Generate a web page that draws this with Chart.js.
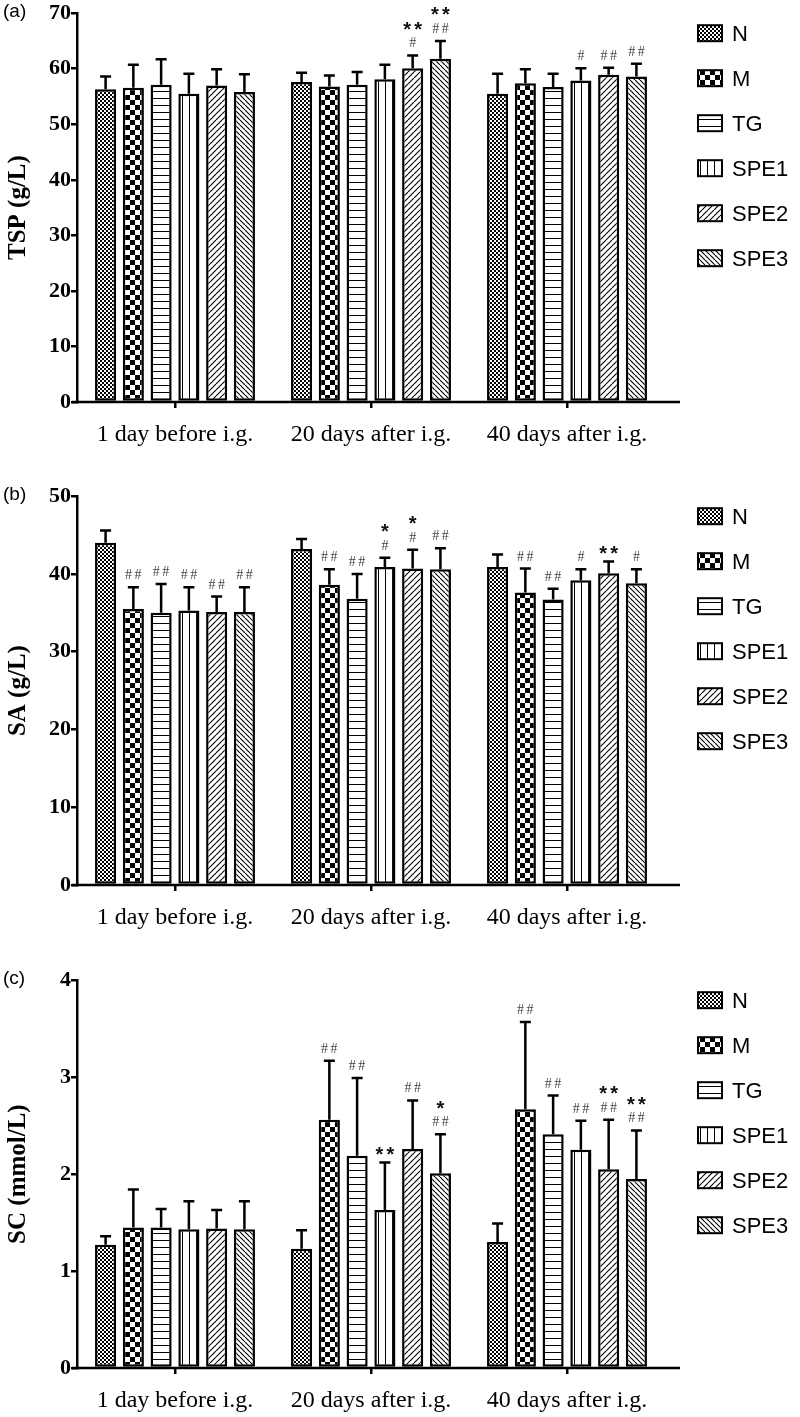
<!DOCTYPE html>
<html>
<head>
<meta charset="utf-8">
<script src="https://cdn.jsdelivr.net/npm/chart.js@4.4.1/dist/chart.umd.min.js"></script>
<style>
  html, body { margin: 0; padding: 0; background: #fff; }
  canvas { display: block; }
</style>
</head>
<body>
<canvas id="tsp" width="800" height="483"></canvas>
<canvas id="sa" width="800" height="484"></canvas>
<canvas id="sc" width="800" height="450"></canvas>
<script>
'use strict'

const groups = ['1 day before i.g.', '20 days after i.g.', '40 days after i.g.']
const series = ['N', 'M', 'TG', 'SPE1', 'SPE2', 'SPE3']

// rows = series, columns = groups
const tspMean = [
  [56.3, 57.6, 55.5],
  [56.6, 56.8, 57.4],
  [57.1, 57.1, 56.7],
  [55.5, 58.1, 57.9],
  [57.0, 60.1, 58.9],
  [55.8, 61.8, 58.6],
]
const tspSd = [
  [2.3, 1.7, 3.6],
  [4.1, 2.0, 2.5],
  [4.6, 2.3, 2.4],
  [3.6, 2.6, 2.2],
  [2.9, 2.3, 1.3],
  [3.2, 3.2, 2.3],
]
const tspMarks = [
  ['', '', ''],
  ['', '', ''],
  ['', '', ''],
  ['', '', '#'],
  ['', '** #', '##'],
  ['', '** ##', '##'],
]

const saMean = [
  [44.0, 43.2, 40.9],
  [35.5, 38.6, 37.6],
  [35.0, 36.8, 36.7],
  [35.3, 40.9, 39.2],
  [35.1, 40.7, 40.1],
  [35.1, 40.6, 38.8],
]
const saSd = [
  [1.6, 1.3, 1.6],
  [2.8, 2.0, 3.1],
  [3.7, 3.2, 1.4],
  [3.0, 1.2, 1.4],
  [2.0, 2.4, 1.5],
  [3.2, 2.7, 1.8],
]
const saMarks = [
  ['', '', ''],
  ['##', '##', '##'],
  ['##', '##', '##'],
  ['##', '* #', '#'],
  ['##', '* #', '**'],
  ['##', '##', '#'],
]

const scMean = [
  [1.27, 1.23, 1.30],
  [1.45, 2.56, 2.67],
  [1.45, 2.19, 2.41],
  [1.43, 1.63, 2.25],
  [1.44, 2.26, 2.05],
  [1.43, 2.01, 1.95],
]
const scSd = [
  [0.09, 0.19, 0.19],
  [0.39, 0.61, 0.90],
  [0.19, 0.80, 0.40],
  [0.29, 0.49, 0.30],
  [0.19, 0.50, 0.51],
  [0.29, 0.40, 0.50],
]
const scMarks = [
  ['', '', ''],
  ['', '##', '##'],
  ['', '##', '##'],
  ['', '**', '##'],
  ['', '##', '** ##'],
  ['', '* ##', '** ##'],
]

function makePattern(kind) {
  const c = document.createElement('canvas')
  const g = c.getContext('2d')
  const size = { N: 4, M: 10, TG: 7, SPE1: 7, SPE2: 6, SPE3: 5 }[kind]
  c.width = c.height = size
  g.fillStyle = '#fff'
  g.fillRect(0, 0, size, size)
  g.fillStyle = '#000'
  g.strokeStyle = '#000'
  g.lineWidth = 1.1
  if (kind === 'N') {
    g.fillRect(0, 0, 2, 2)
    g.fillRect(2, 2, 2, 2)
  } else if (kind === 'M') {
    g.fillRect(0, 0, 5, 5)
    g.fillRect(5, 5, 5, 5)
  } else if (kind === 'TG') {
    g.fillRect(0, 0, size, 1)
  } else if (kind === 'SPE1') {
    g.fillRect(0, 0, 1, size)
  } else {
    g.beginPath()
    for (const k of [-size, 0, size]) {
      if (kind === 'SPE2') {
        g.moveTo(k, size); g.lineTo(k + size, 0)
      } else {
        g.moveTo(k, 0); g.lineTo(k + size, size)
      }
    }
    g.stroke()
  }
  return g.createPattern(c, 'repeat')
}

const patterns = series.map(makePattern)

function drawMark(ctx, text, cx, cy) {
  const chars = text.split('')
  const hash = chars[0] === '#'
  const gap = hash ? 9.5 : 11
  ctx.font = hash ? '14px "Liberation Serif"' : 'bold 20px "Liberation Sans"'
  ctx.fillStyle = hash ? '#444' : '#111'
  ctx.textAlign = 'center'
  ctx.textBaseline = 'alphabetic'
  chars.forEach((ch, k) => {
    const x = cx + (k - (chars.length - 1) / 2) * gap
    ctx.fillText(ch, x, hash ? cy + 5 : cy + 11.5)
  })
}

const errorBars = {
  id: 'errorBars',
  afterDatasetsDraw(chart) {
    const { ctx } = chart
    const y = chart.scales.y
    ctx.save()
    chart.data.datasets.forEach((ds, i) => {
      chart.getDatasetMeta(i).data.forEach((bar, j) => {
        const top = y.getPixelForValue(ds.data[j] + ds.sd[j])
        ctx.strokeStyle = '#000'
        ctx.lineWidth = 2.5
        ctx.beginPath()
        ctx.moveTo(bar.x, bar.y)
        ctx.lineTo(bar.x, top)
        ctx.moveTo(bar.x - 5.5, top)
        ctx.lineTo(bar.x + 5.5, top)
        ctx.stroke()
        const lines = ds.marks[j] ? ds.marks[j].split(' ').reverse() : []
        let cy = top - 13
        lines.forEach((s, k) => {
          if (k > 0) cy -= 18
          drawMark(ctx, s, bar.x, cy)
        })
      })
    })
    ctx.restore()
  },
}

const extras = {
  id: 'extras',
  afterDraw(chart, args, opts) {
    const { ctx, chartArea } = chart
    const zero = chart.scales.y.getPixelForValue(0)
    ctx.save()
    // x axis line, running past the last group
    ctx.strokeStyle = '#000'
    ctx.lineWidth = 2.5
    ctx.beginPath()
    ctx.moveTo(72, zero)
    ctx.lineTo(680, zero)
    ctx.stroke()

    // panel tag
    ctx.fillStyle = '#000'
    ctx.font = '19px "Liberation Sans"'
    ctx.textAlign = 'left'
    ctx.textBaseline = 'alphabetic'
    ctx.fillText(opts.tag, 3, 17)

    // legend
    chart.data.datasets.forEach((ds, i) => {
      const cy = chartArea.top + 20 + i * 45
      ctx.fillStyle = ds.backgroundColor
      ctx.fillRect(698, cy - 8, 24, 16)
      ctx.lineWidth = 2
      ctx.strokeStyle = '#000'
      ctx.strokeRect(698, cy - 8, 24, 16)
      ctx.fillStyle = '#000'
      ctx.font = '22px "Liberation Sans"'
      ctx.fillText(ds.label, 732, cy + 8)
    })
    ctx.restore()
  },
}

function buildChart(id, tag, title, max, step, means, sds, marks, top, bottom) {
  const canvas = document.getElementById(id)
  const datasets = series.map((name, i) => ({
    label: name,
    data: means[i],
    sd: sds[i],
    marks: marks[i],
    backgroundColor: patterns[i],
    borderColor: '#000',
    borderWidth: 2.5,
    borderSkipped: false,
    categoryPercentage: 0.85,
    barPercentage: 0.76,
  }))

  return new Chart(canvas, {
    type: 'bar',
    data: { labels: groups, datasets: datasets },
    options: {
      responsive: false,
      animation: false,
      layout: { padding: { top: top, right: 135, left: 0, bottom: 0 } },
      plugins: {
        legend: { display: false },
        tooltip: { enabled: false },
        extras: { tag: tag },
      },
      scales: {
        x: {
          afterFit: (s) => { s.height = canvas.height - bottom },
          grid: {
            display: true,
            offset: false,
            drawOnChartArea: false,
            drawTicks: true,
            tickLength: 6,
            lineWidth: 2.5,
            color: '#000',
          },
          border: { display: false },
          ticks: {
            color: '#000',
            maxRotation: 0,
            padding: 12,
            font: { family: '"Liberation Serif"', size: 24 },
          },
        },
        y: {
          min: 0,
          max: max,
          afterFit: (s) => { s.width = 77 },
          grid: {
            display: true,
            drawOnChartArea: false,
            drawTicks: true,
            tickLength: 6,
            lineWidth: 2.5,
            color: '#000',
          },
          border: { display: true, width: 2.5, color: '#000' },
          ticks: {
            stepSize: step,
            color: '#000',
            padding: 0,
            font: { family: '"Liberation Serif"', size: 22, weight: 'bold' },
          },
          title: {
            display: true,
            text: title,
            color: '#000',
            padding: { top: 4, bottom: 0 },
            font: { family: '"Liberation Serif"', size: 25, weight: 'bold' },
          },
        },
      },
    },
    plugins: [errorBars, extras],
  })
}

buildChart('tsp', '(a)', 'TSP (g/L)', 70, 10, tspMean, tspSd, tspMarks, 10, 402)
buildChart('sa', '(b)', 'SA (g/L)', 50, 10, saMean, saSd, saMarks, 10, 402)
buildChart('sc', '(c)', 'SC (mmol/L)', 4, 1, scMean, scSd, scMarks, 11, 401)
</script>
</body>
</html>
